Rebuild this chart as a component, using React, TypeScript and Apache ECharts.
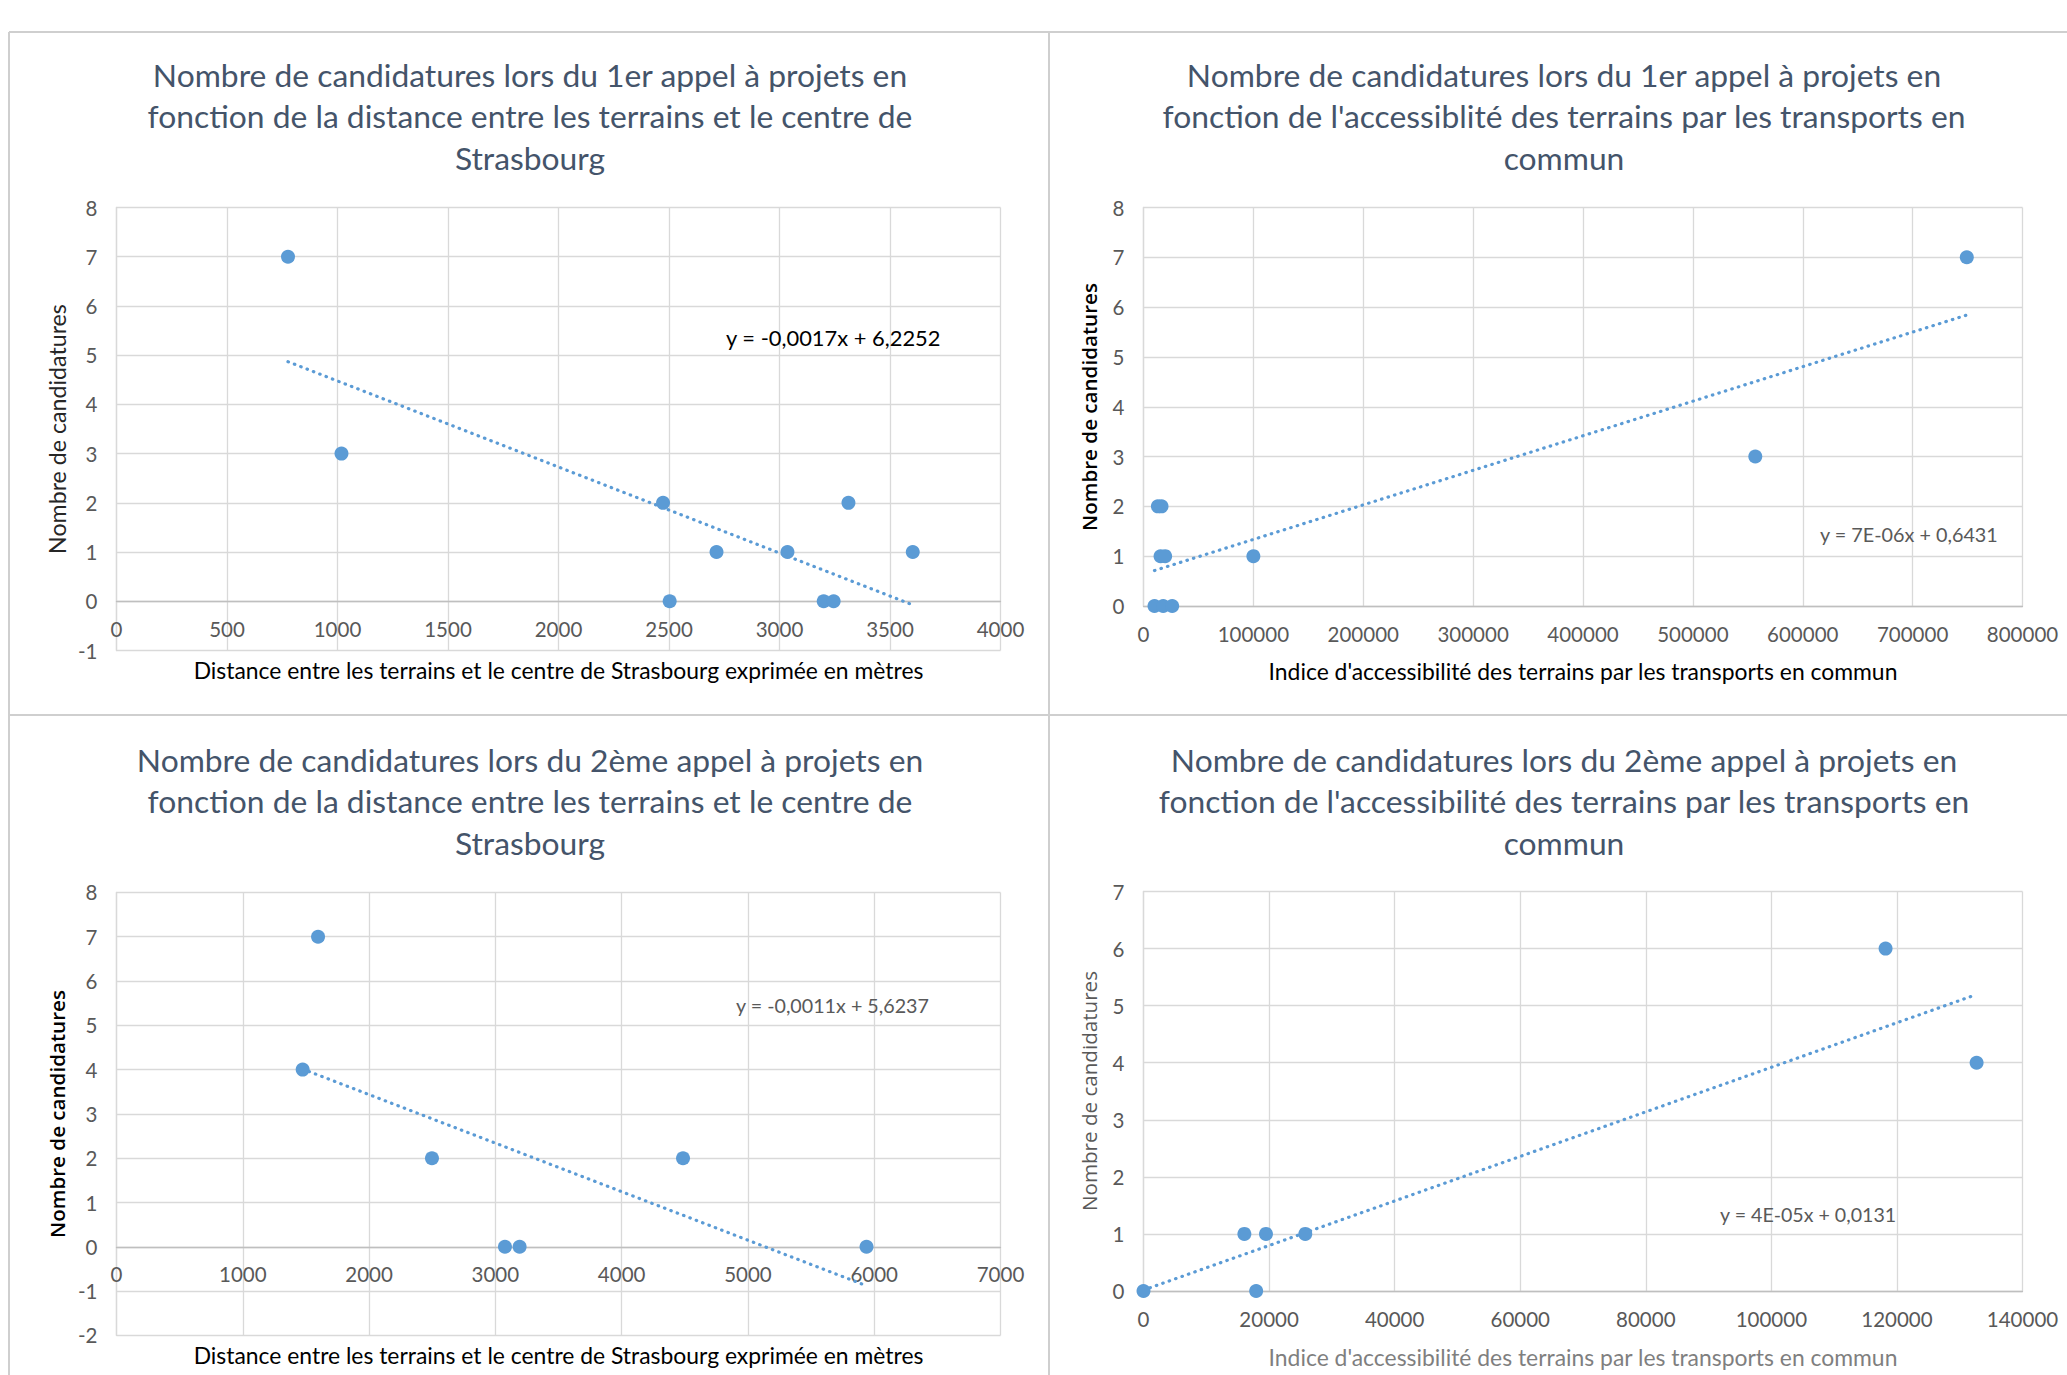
import React, { useEffect, useRef } from "react";
import * as echarts from "echarts";

// ---- Data ----
const p1X = [776, 1018, 2473, 2503, 2715, 3036, 3200, 3245, 3312, 3603];
const p1Y = [7, 3, 2, 0, 1, 1, 0, 0, 2, 1];
const p2X = [10000, 17900, 26100, 13100, 16400, 15500, 19700, 100000, 556800, 749300];
const p2Y = [0, 0, 0, 2, 2, 1, 1, 1, 3, 7];
const p3X = [1474, 1596, 2498, 3076, 3192, 4486, 5939];
const p3Y = [4, 7, 2, 0, 0, 2, 0];
const p4X = [0, 16065, 19507, 25767, 17943, 118190, 132690];
const p4Y = [0, 1, 1, 1, 0, 6, 4];

const titles = [
  "Nombre de candidatures lors du 1er appel à projets en\nfonction de la distance entre les terrains et le centre de\nStrasbourg",
  "Nombre de candidatures lors du 1er appel à projets en\nfonction de l'accessiblité des terrains par les transports en\ncommun",
  "Nombre de candidatures lors du 2ème appel à projets en\nfonction de la distance entre les terrains et le centre de\nStrasbourg",
  "Nombre de candidatures lors du 2ème appel à projets en\nfonction de l'accessibilité des terrains par les transports en\ncommun",
];
const xNames = [
  "Distance entre les terrains et le centre de Strasbourg exprimée en mètres",
  "Indice d'accessibilité des terrains par les transports en commun",
  "Distance entre les terrains et le centre de Strasbourg exprimée en mètres",
  "Indice d'accessibilité des terrains par les transports en commun",
];
const yName = "Nombre de candidatures";
const equations = [
  "y = -0,0017x + 6,2252",
  "y = 7E-06x + 0,6431",
  "y = -0,0011x + 5,6237",
  "y = 4E-05x + 0,0131",
];
const xRanges = [
  [0, 4000, 500],
  [0, 800000, 100000],
  [0, 7000, 1000],
  [0, 140000, 20000],
];
const yRanges = [
  [-1, 8],
  [0, 8],
  [-2, 8],
  [0, 7],
];

const dataX = [p1X, p2X, p3X, p4X];
const dataY = [p1Y, p2Y, p3Y, p4Y];

function fit(xs: number[], ys: number[]) {
  const n = xs.length;
  const mx = xs.reduce((a, b) => a + b, 0) / n;
  const my = ys.reduce((a, b) => a + b, 0) / n;
  let sxy = 0;
  let sxx = 0;
  for (let i = 0; i < n; i++) {
    sxy += (xs[i] - mx) * (ys[i] - my);
    sxx += (xs[i] - mx) * (xs[i] - mx);
  }
  const b = sxy / sxx;
  const a = my - b * mx;
  const x0 = Math.min(...xs);
  const x1 = Math.max(...xs);
  return [
    [x0, a + b * x0],
    [x1, a + b * x1],
  ];
}

// ---- Layout ----
const grids = [
  { left: 116.5, top: 207.5, width: 884, height: 443 },
  { left: 1143.5, top: 207.5, width: 879, height: 398.5 },
  { left: 116.5, top: 892.4, width: 884, height: 443 },
  { left: 1143.5, top: 891.5, width: 879, height: 399.5 },
];
const titlePos = [
  [530, 116],
  [1564, 116],
  [530, 801],
  [1564, 801],
];
const xNamePos = [
  [558.5, 670],
  [1583, 671],
  [558.5, 1355],
  [1583, 1357],
];
const yNamePos = [
  [57, 429],
  [1089, 407],
  [57, 1114],
  [1089, 1091],
];
const eqPos = [
  [726, 337.5, "#000000", 21.9],
  [1820, 533.5, "#595959", 19.8],
  [736, 1005, "#595959", 19.7],
  [1720, 1214, "#595959", 19.6],
];
const yNameStyle = [
  { fontFamily: "Lato", fontWeight: 400, fill: "#262626", fontSize: 23.2 },
  { fontFamily: "Open Sans", fontWeight: 600, fill: "#000000", fontSize: 20.6 },
  { fontFamily: "Open Sans", fontWeight: 600, fill: "#000000", fontSize: 20.6 },
  { fontFamily: "Open Sans", fontWeight: 400, fill: "#595959", fontSize: 20.6 },
];
const xNameColors = ["#000000", "#000000", "#000000", "#7f7f7f"];

const BLUE = "#5B9BD5";
const FONT = "Lato";

export default function App() {
  const ref = useRef<HTMLDivElement>(null);
  useEffect(() => {
    if (!ref.current) return;
    const chart = echarts.init(ref.current, null, { renderer: "svg" });

    const xAxis: any[] = [];
    const yAxis: any[] = [];
    const series: any[] = [];
    const graphic: any[] = [];

    for (let i = 0; i < 4; i++) {
      const [ymin, ymax] = yRanges[i];
      const zeroOffset = -grids[i].height * ((0 - ymin) / (ymax - ymin));
      xAxis.push({
        type: "value",
        gridIndex: i,
        min: xRanges[i][0],
        max: xRanges[i][1],
        interval: xRanges[i][2],
        position: "bottom",
        offset: zeroOffset,
        axisLine: { show: true, onZero: false, lineStyle: { color: "#bfbfbf", width: 1.3 } },
        axisTick: { show: false },
        axisLabel: {
          color: "#595959",
          fontSize: 20.5,
          fontFamily: FONT,
          margin: 17,
          formatter: (v: number) => String(v),
        },
        splitLine: { show: true, lineStyle: { color: "#d9d9d9", width: 1.3 } },
      });
      yAxis.push({
        type: "value",
        gridIndex: i,
        min: ymin,
        max: ymax,
        interval: 1,
        axisLine: { show: true, onZero: false, lineStyle: { color: "#d9d9d9", width: 1.3 } },
        axisTick: { show: false },
        axisLabel: {
          color: "#595959",
          fontSize: 20.5,
          fontFamily: FONT,
          margin: 19,
          formatter: (v: number) => String(v),
        },
        splitLine: { show: true, lineStyle: { color: "#d9d9d9", width: 1.3 } },
      });
      series.push({
        type: "line",
        xAxisIndex: i,
        yAxisIndex: i,
        data: fit(dataX[i], dataY[i]),
        showSymbol: false,
        symbol: "none",
        silent: true,
        z: 3,
        lineStyle: { color: BLUE, width: 3.2, type: [0.5, 6.3], cap: "round" },
      });
      series.push({
        type: "scatter",
        xAxisIndex: i,
        yAxisIndex: i,
        data: dataX[i].map((x, k) => [x, dataY[i][k]]),
        symbolSize: 14,
        z: 4,
        itemStyle: { color: BLUE, opacity: 1 },
      });

      graphic.push({
        type: "text",
        x: titlePos[i][0],
        y: titlePos[i][1],
        style: {
          text: titles[i],
          fontFamily: FONT,
          fontSize: 31.8,
          lineHeight: 41.5,
          fill: "#44546a",
          align: "center",
          verticalAlign: "middle",
          textAlign: "center",
          textVerticalAlign: "middle",
        },
      });
      graphic.push({
        type: "text",
        x: xNamePos[i][0],
        y: xNamePos[i][1],
        style: {
          text: xNames[i],
          fontFamily: FONT,
          fontSize: 22.9,
          fill: xNameColors[i],
          align: "center",
          verticalAlign: "middle",
          textAlign: "center",
          textVerticalAlign: "middle",
        },
      });
      graphic.push({
        type: "text",
        x: yNamePos[i][0],
        y: yNamePos[i][1],
        rotation: Math.PI / 2,
        style: {
          text: yName,
          ...yNameStyle[i],
          align: "center",
          verticalAlign: "middle",
          textAlign: "center",
          textVerticalAlign: "middle",
        },
      });
      graphic.push({
        type: "text",
        x: eqPos[i][0],
        y: eqPos[i][1],
        z: 10,
        style: {
          text: equations[i],
          fontFamily: FONT,
          fontSize: eqPos[i][3],
          fill: eqPos[i][2],
          align: "left",
          verticalAlign: "middle",
          textAlign: "left",
          textVerticalAlign: "middle",
        },
      });
    }

    const borderStyle = { stroke: "#cfcfcf", lineWidth: 2 };
    graphic.push(
      { type: "line", shape: { x1: 9, y1: 32, x2: 2067, y2: 32 }, style: borderStyle },
      { type: "line", shape: { x1: 9, y1: 32, x2: 9, y2: 1375 }, style: borderStyle },
      { type: "line", shape: { x1: 1049, y1: 32, x2: 1049, y2: 1375 }, style: borderStyle },
      { type: "line", shape: { x1: 9, y1: 715, x2: 2067, y2: 715 }, style: borderStyle }
    );

    chart.setOption({
      animation: false,
      backgroundColor: "#ffffff",
      grid: grids.map((g) => ({ ...g, containLabel: false })),
      xAxis,
      yAxis,
      series,
      graphic,
    });
    return () => chart.dispose();
  }, []);
  return (
    <div
      ref={ref}
      style={{ position: "absolute", left: 0, top: 0, width: 2067, height: 1375, background: "#fff" }}
    />
  );
}
